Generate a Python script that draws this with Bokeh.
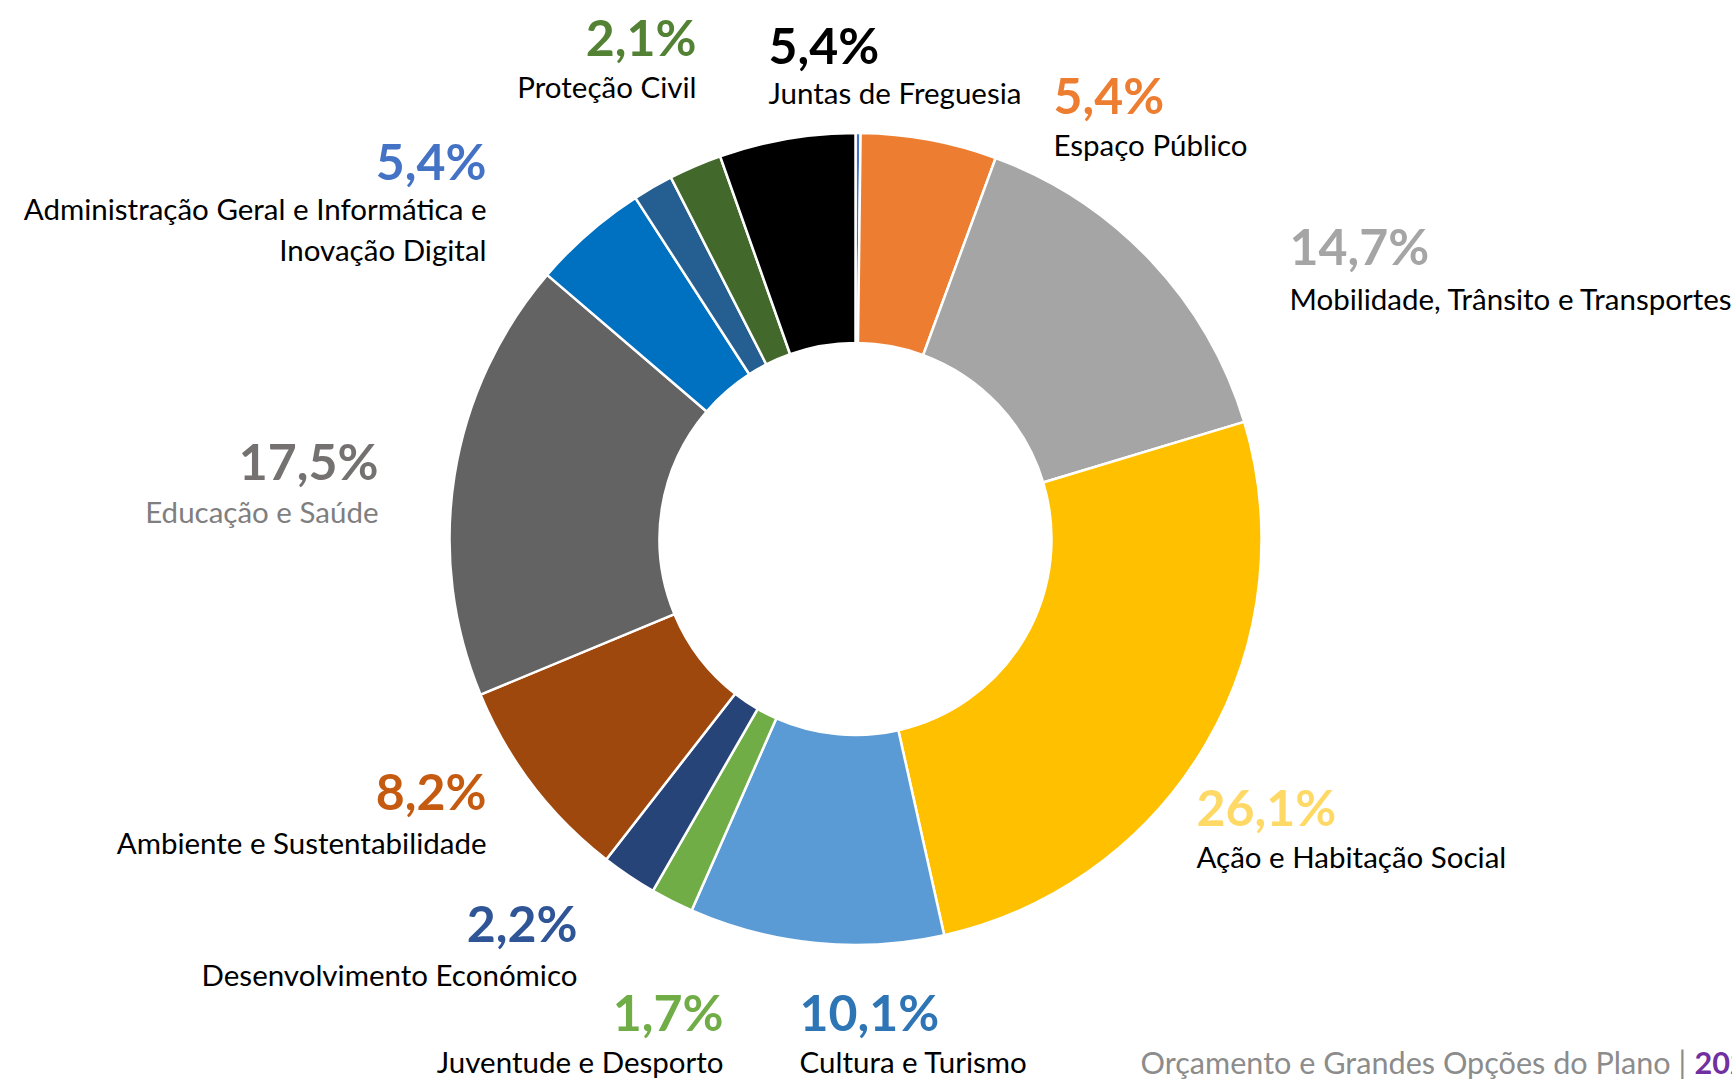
import math
from bokeh.plotting import figure
from bokeh.models import Range1d, ColumnDataSource
from bokeh.embed import file_html
from bokeh.resources import INLINE
from bokeh.core.properties import value

# ---- data (clockwise from 12 o'clock) ----
segments = ["Outros", "Espaço Público", "Mobilidade, Trânsito e Transportes",
            "Ação e Habitação Social", "Cultura e Turismo", "Juventude e Desporto",
            "Desenvolvimento Económico", "Ambiente e Sustentabilidade", "Educação e Saúde",
            "Administração Geral", "Informática e Inovação Digital", "Proteção Civil",
            "Juntas de Freguesia"]
shares = [0.2, 5.4, 14.7, 26.1, 10.1, 1.7, 2.2, 8.2, 17.5, 4.6, 1.6, 2.1, 5.4]
slice_colors = ["#4472C4", "#ED7D31", "#A5A5A5", "#FFC000", "#5B9BD5", "#70AD47",
                "#264478", "#9E480E", "#636363", "#0070C0", "#255E91", "#43682B",
                "#000000"]

# ---- labels ----
label_pcts = ["2,1%", "5,4%", "5,4%", "14,7%", "26,1%", "10,1%", "1,7%",
              "2,2%", "8,2%", "17,5%", "5,4%"]
label_names = ["Proteção Civil", "Juntas de Freguesia", "Espaço Público",
               "Mobilidade, Trânsito e Transportes", "Ação e Habitação Social",
               "Cultura e Turismo", "Juventude e Desporto", "Desenvolvimento Económico",
               "Ambiente e Sustentabilidade", "Educação e Saúde",
               "Administração Geral e Informática e\nInovação Digital"]
pct_colors = ["#548235", "#000000", "#ED7D31", "#A5A5A5", "#FFD966", "#2E75B6",
              "#70AD47", "#2F5597", "#C55A11", "#767171", "#4472C4"]
name_colors = ["#000000"] * 9 + ["#7F7F7F", "#000000"]
footer_text = "Orçamento e Grandes Opções do Plano | "
footer_year = "2023"

# ---- layout (page pixel coordinates) ----
W, H = 1732, 1081
def X(xf):
    return xf
def Y(yf):
    return H - yf

# anchor x, pct y, name y, align
label_layout = [
    (696, 36, 86, "right"),
    (768, 44, 92, "left"),
    (1053, 94, 144, "left"),
    (1289, 245, 298, "left"),
    (1196, 806, 856, "left"),
    (799, 1011, 1061, "left"),
    (723, 1011, 1061, "right"),
    (577, 922, 974, "right"),
    (486, 790, 842, "right"),
    (378, 460, 511, "right"),
    (486, 160, 208, "right"),
]

p = figure(width=W, height=H, x_range=Range1d(0, W), y_range=Range1d(0, H),
           output_backend="svg", toolbar_location=None, min_border=0)
p.axis.visible = False
p.grid.visible = False
p.outline_line_color = None
p.background_fill_color = "white"
p.border_fill_color = "white"

# donut
total = sum(shares)
starts, ends = [], []
cum = 0.0
for s in shares:
    starts.append(math.pi / 2 - 2 * math.pi * cum / total)
    cum += s
    ends.append(math.pi / 2 - 2 * math.pi * cum / total)
cx, cy = X(855), Y(538.5)
src = ColumnDataSource(dict(start=starts, end=ends, color=slice_colors, name=segments))
p.annular_wedge(x=cx, y=cy, inner_radius=196, outer_radius=406,
                inner_radius_units="screen", outer_radius_units="screen",
                start_angle="start", end_angle="end", direction="clock",
                fill_color="color", line_color="white", line_width=2.5, source=src)

font = value("Lato")
for i, (ax, py, ny, al) in enumerate(label_layout):
    p.text(x=[X(ax)], y=[Y(py)], text=[label_pcts[i]], text_align=al,
           text_baseline="middle", text_font=font, text_font_size="50px",
           text_font_style="bold", text_color=pct_colors[i])
    lines = label_names[i].split("\n")
    for j, ln in enumerate(lines):
        p.text(x=[X(ax)], y=[Y(ny + 41 * j)], text=[ln], text_align=al,
               text_baseline="middle", text_font=font, text_font_size="29.5px",
               text_color=name_colors[i])

# footer
p.text(x=[X(1140)], y=[Y(1062)], text=[footer_text], text_align="left",
       text_baseline="middle", text_font=font, text_font_size="30.6px",
       text_color="#8C8C8C")
p.text(x=[X(1694)], y=[Y(1062)], text=[footer_year], text_align="left",
       text_baseline="middle", text_font=font, text_font_size="30.6px",
       text_font_style="bold", text_color="#7030A0")

open("out.html", "w").write(file_html(p, INLINE))
